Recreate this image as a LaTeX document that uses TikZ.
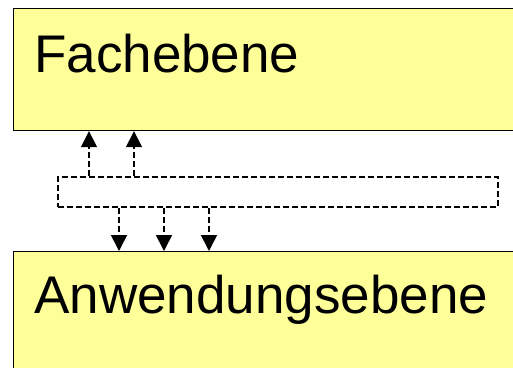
\documentclass[tikz,border=0pt]{standalone}
\usepackage{fontspec}
\setmainfont{Liberation Sans}
\usetikzlibrary{arrows.meta,positioning}
\definecolor{hellgelb}{HTML}{FFFF99}
\tikzset{
  ebene/.style={draw=black, line width=1.2pt, fill=hellgelb, anchor=north west,
    minimum width=520pt, minimum height=122pt, inner sep=0pt},
  titel/.style={anchor=base west, inner sep=0pt, font=\fontsize{53}{60}\selectfont},
  strich/.style={line width=1.6pt, dash pattern=on 6pt off 3pt},
  pfeil/.style={strich, -{Triangle[length=16pt,width=16pt]}}
}
\begin{document}
\begin{tikzpicture}[x=1pt,y=1pt]
   \useasboundingbox (0,0) rectangle (513,-367);

   \node[ebene] (fach) at (13,-8) {};
   \node[ebene] (anw) at (13,-251) {};
   \node[draw, strich, anchor=north west, minimum width=440pt, minimum height=30pt,
     inner sep=0pt] (mitte) at (57,-176) {};

   \node[titel] (fachtext) at ([xshift=21pt,yshift=-64pt]fach.north west) {Fachebene};
   \node[titel] (anwtext) at ([xshift=21pt,yshift=-62pt]anw.north west) {Anwendungsebene};

   \coordinate (o1) at ([xshift=32pt]mitte.north west);
   \coordinate (o2) at ([xshift=77pt]mitte.north west);
   \coordinate (u1) at ([xshift=62pt]mitte.south west);
   \coordinate (u2) at ([xshift=107pt]mitte.south west);
   \coordinate (u3) at ([xshift=152pt]mitte.south west);

   \draw[pfeil] (o1) -- (o1 |- fach.south);
   \draw[pfeil] (o2) -- (o2 |- fach.south);
   \draw[pfeil] (u1) -- (u1 |- anw.north);
   \draw[pfeil] (u2) -- (u2 |- anw.north);
   \draw[pfeil] (u3) -- (u3 |- anw.north);

\end{tikzpicture}
\end{document}
